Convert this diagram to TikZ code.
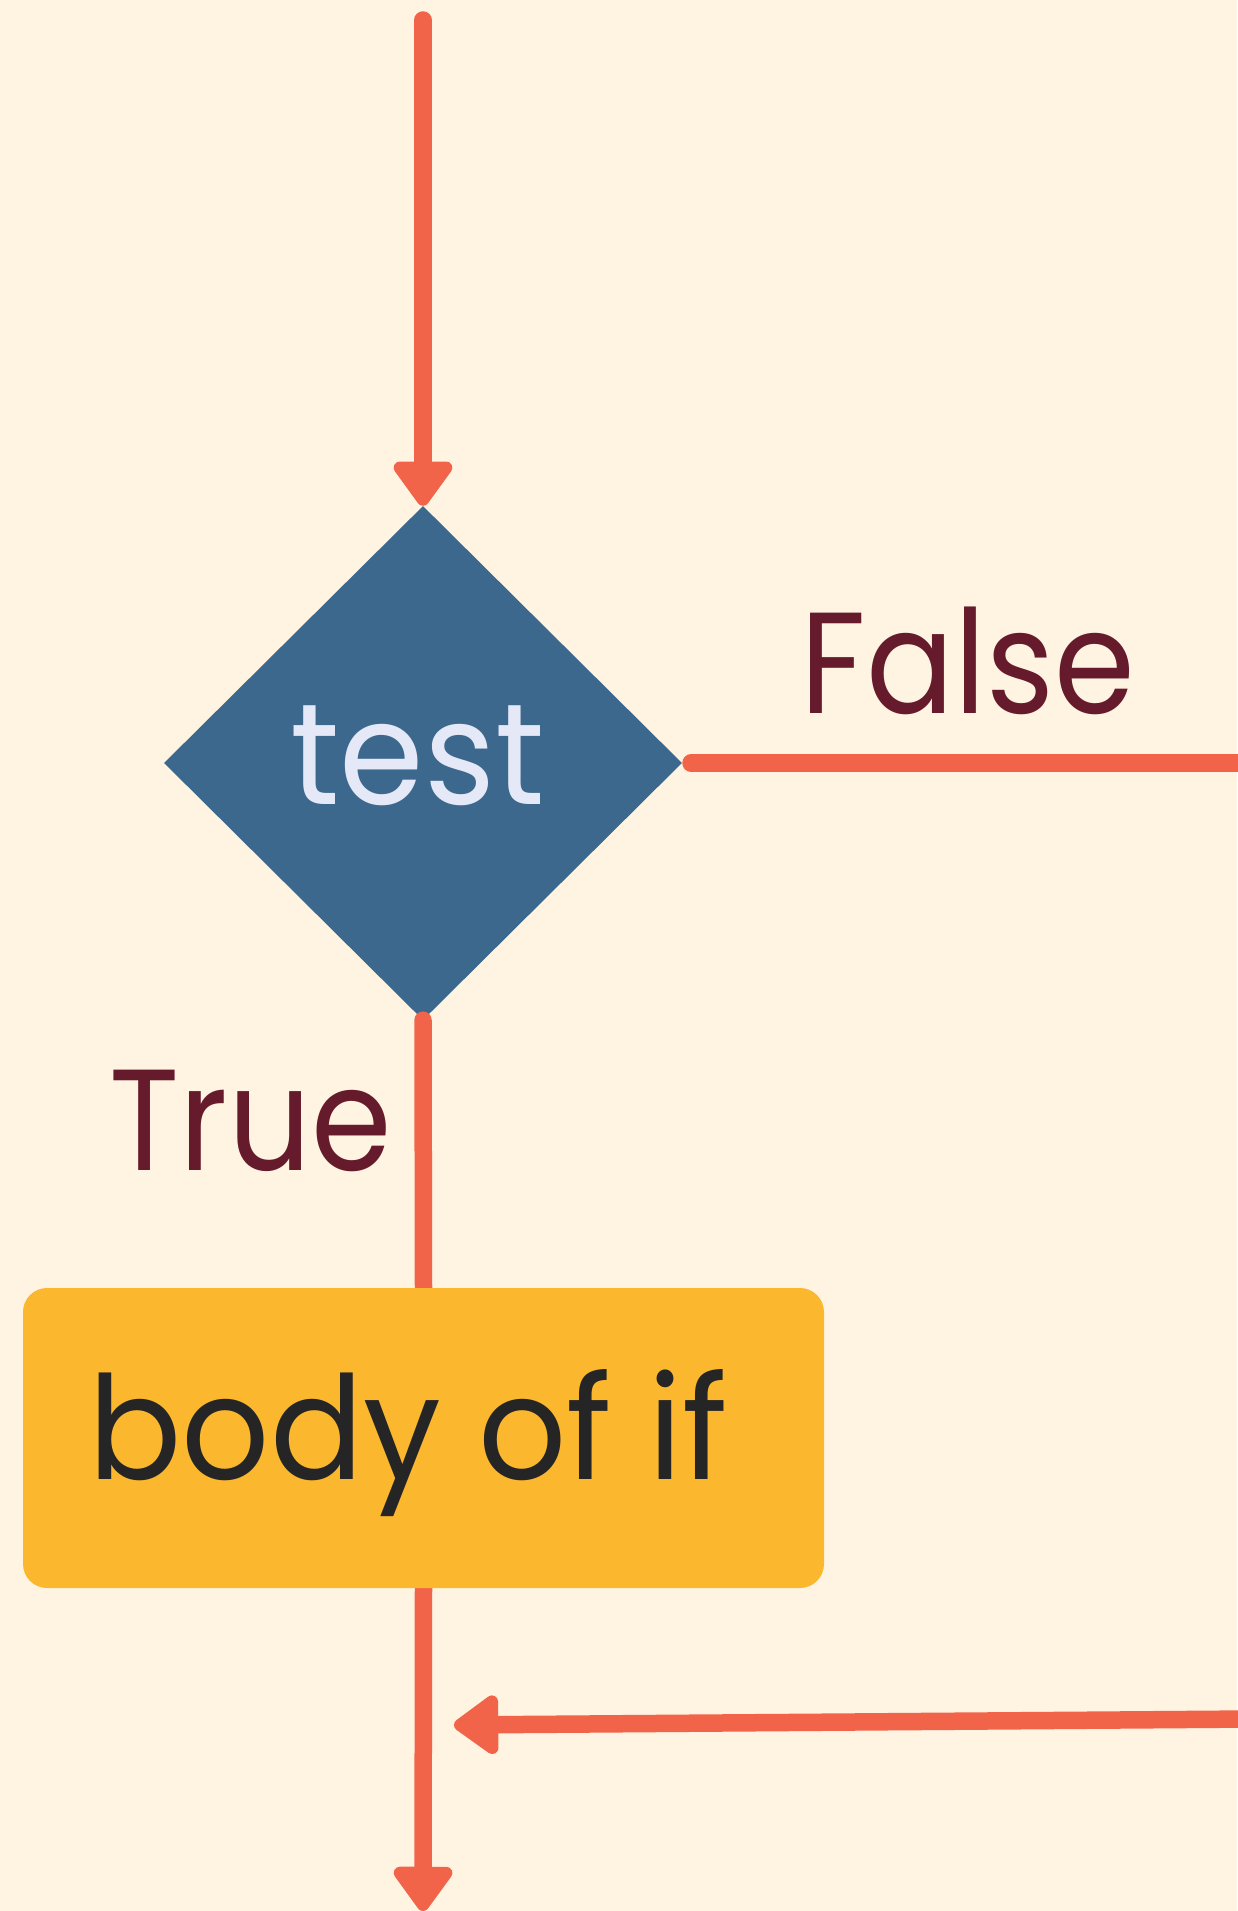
\documentclass[tikz,border=0pt]{standalone}
\usepackage{fontspec}
\setmainfont{Poppins}
\usetikzlibrary{arrows.meta,shapes.geometric}
\pgfdeclarelayer{background}
\pgfdeclarelayer{foreground}
\pgfsetlayers{background,main,foreground}
\definecolor{bgc}{HTML}{FFF4E2}
\definecolor{flowc}{HTML}{F26449}
\definecolor{diamc}{HTML}{3C688D}
\definecolor{boxc}{HTML}{FBB82F}
\definecolor{labc}{HTML}{651B2B}
\definecolor{testc}{HTML}{E5E9F7}
\definecolor{bodyc}{HTML}{252525}
\tikzset{
  flow/.style={draw=flowc, line width=17.5pt, line cap=round},
  flowarrow/.style={flow, -{Triangle[length=49pt,width=67pt,round]}},
  decision/.style={diamond, fill=diamc, draw=none, inner sep=0pt,
     minimum width=518pt, minimum height=514pt},
  bodybox/.style={rectangle, rounded corners=24pt, fill=boxc, draw=none,
     minimum width=801pt, minimum height=300pt, inner sep=0pt},
  bigtext/.style={font=\fontsize{144}{150}\selectfont, inner sep=0pt, anchor=base},
}
\begin{document}
\begin{tikzpicture}[x=1pt,y=-1pt]
\begin{pgfonlayer}{background}
\fill[bgc] (0,0) rectangle (1237,1911);
\end{pgfonlayer}
\useasboundingbox (0,0) rectangle (1237,1911);
\coordinate (start) at (423,20);
\coordinate (falseS) at (691,763);
\coordinate (falseE) at (1250,763);
\coordinate (retS) at (1250,1719);
\coordinate (retE) at (454,1725);
\coordinate (endP) at (423,1911);
\node[decision] (test) at (423,763) {};
\begin{pgfonlayer}{foreground}
\node[bodybox] (body) at (423.5,1438) {};
\node[bigtext, text=testc] (testlbl) at (417.4,804) {\scalebox{0.944}[1]{test}};
\node[bigtext, text=labc] (falselbl) at (967.7,713) {\scalebox{0.903}[1]{False}};
\node[bigtext, text=labc] (truelbl) at (250.5,1170) {\scalebox{0.9}[1]{True}};
\node[bigtext, text=bodyc] (bodylbl) at (408.3,1479) {\scalebox{0.959}[1]{body of if}};
\end{pgfonlayer}
% connectors
\draw[flowarrow] (start) -- (test.north);
\draw[flow] (falseS) -- (falseE);
\draw[flow] (test.south) -- (body.north);
\draw[flowarrow] (body.south) -- (endP);
\draw[flowarrow] (retS) -- (retE);
\end{tikzpicture}
\end{document}
